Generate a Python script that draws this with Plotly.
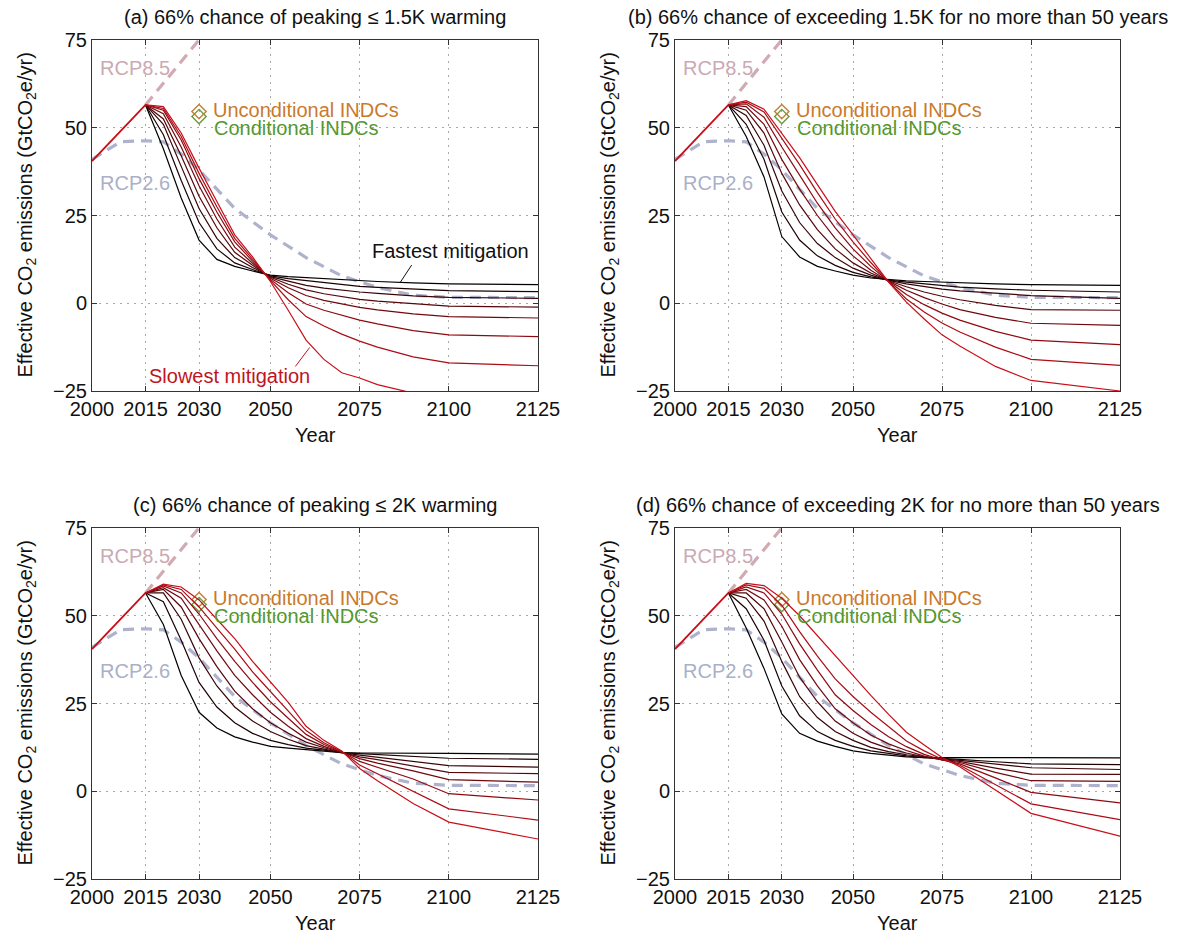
import plotly.graph_objects as go

# ---------------- data ----------------
years = [2015, 2020, 2025, 2030, 2035, 2040, 2045, 2050, 2055, 2060, 2065, 2070, 2075, 2080, 2090, 2100, 2125]

hist_years = [2000, 2015]
hist_values = [40.5, 56.5]

rcp26_years = [2000, 2008, 2015, 2020, 2025, 2030, 2040, 2050, 2060, 2070, 2080, 2090, 2100, 2125]
rcp26_values = [41.0, 46.0, 46.3, 46.0, 42.5, 38.0, 27.0, 19.5, 13.0, 7.8, 4.5, 2.3, 1.7, 1.6]

rcp85_years = [2015, 2020, 2025, 2030, 2035]
rcp85_values = [56.5, 62.7, 68.8, 75.0, 81.2]

indc_year = 2030
indc_unconditional = 54.6
indc_conditional = 53.2

# curves: fastest (index 0) -> slowest (index 7)
panel_a = [
    [56.5, 44.0, 30.0, 18.0, 12.5, 10.5, 9.2, 8.0, 7.6, 7.3, 7.0, 6.7, 6.4, 6.2, 5.8, 5.5, 5.3],
    [56.5, 48.0, 35.0, 23.0, 15.5, 11.5, 9.6, 7.8, 7.0, 6.4, 5.8, 5.3, 4.8, 4.5, 4.0, 3.6, 3.3],
    [56.5, 51.0, 39.0, 27.0, 18.5, 13.0, 10.2, 7.6, 6.3, 5.1, 4.3, 3.7, 3.2, 2.8, 2.1, 1.7, 1.4],
    [56.5, 52.5, 42.0, 30.5, 21.5, 14.5, 10.8, 7.4, 5.4, 3.8, 2.7, 1.8, 1.1, 0.6, -0.2, -0.8, -1.1],
    [56.5, 54.0, 44.5, 33.5, 24.0, 16.0, 11.4, 7.1, 4.4, 2.2, 0.8, -0.3, -1.2, -1.9, -3.0, -3.8, -4.2],
    [56.5, 55.0, 46.5, 35.5, 26.0, 17.5, 12.0, 6.8, 3.0, -0.2, -2.0, -3.5, -4.8, -5.9, -7.8, -9.0, -9.5],
    [56.5, 55.5, 47.5, 37.0, 27.5, 18.5, 12.6, 6.5, 1.0, -3.8, -6.5, -8.8, -10.8, -12.5, -15.3, -17.0, -17.8],
    [56.5, 56.0, 48.5, 38.5, 29.0, 19.5, 13.2, 6.2, -2.0, -10.5, -16.0, -19.8, -21.3, -23.2, -25.6, -27.0, -28.0],
]
panel_b = [
    [56.5, 47.5, 36.0, 19.0, 13.2, 10.5, 9.2, 8.0, 7.2, 6.7, 6.4, 6.2, 6.0, 5.8, 5.5, 5.3, 5.1],
    [56.5, 51.0, 41.0, 26.0, 18.0, 13.5, 10.8, 8.8, 7.5, 6.6, 6.0, 5.5, 5.0, 4.6, 4.1, 3.7, 3.2],
    [56.5, 53.5, 45.0, 32.0, 23.0, 17.0, 13.0, 10.0, 8.0, 6.5, 5.5, 4.7, 4.0, 3.5, 2.8, 2.2, 1.4],
    [56.5, 55.0, 48.5, 37.0, 28.0, 21.0, 15.5, 11.5, 8.6, 6.4, 4.7, 3.2, 2.0, 1.0, -0.6, -1.8, -2.0],
    [56.5, 56.0, 51.0, 41.0, 32.5, 25.0, 18.5, 13.5, 9.4, 6.3, 3.7, 1.6, -0.2, -1.8, -4.0, -5.7, -6.3],
    [56.5, 56.8, 53.0, 44.5, 36.5, 28.5, 21.5, 15.5, 10.5, 6.2, 2.5, -0.4, -2.8, -4.8, -8.0, -10.5, -11.8],
    [56.5, 57.3, 54.5, 47.0, 39.5, 31.5, 24.0, 17.5, 11.6, 6.1, 1.2, -2.5, -5.6, -8.2, -12.5, -16.0, -17.7],
    [56.5, 57.7, 55.3, 48.5, 41.5, 33.8, 26.2, 19.5, 12.9, 6.0, 0.3, -4.5, -9.0, -12.2, -18.0, -22.0, -25.0],
]
panel_c = [
    [56.5, 47.5, 33.0, 22.5, 18.0, 15.5, 14.0, 12.8, 12.3, 11.8, 11.4, 11.0, 10.9, 10.9, 10.8, 10.8, 10.6],
    [56.5, 54.0, 43.0, 31.0, 24.0, 19.5, 16.5, 14.5, 13.3, 12.3, 11.7, 11.0, 10.7, 10.4, 9.9, 9.4, 9.1],
    [56.5, 56.5, 49.0, 38.0, 30.0, 24.0, 20.0, 17.0, 14.8, 13.0, 12.0, 11.0, 10.3, 9.7, 8.5, 7.3, 6.9],
    [56.5, 57.5, 52.5, 43.5, 35.5, 28.5, 23.5, 19.5, 16.5, 14.0, 12.4, 11.1, 9.8, 9.0, 7.2, 5.4, 5.0],
    [56.5, 58.0, 55.0, 47.5, 40.0, 33.0, 27.5, 22.5, 18.5, 15.0, 12.8, 11.1, 9.3, 8.0, 5.8, 3.3, 2.6],
    [56.5, 58.5, 56.5, 50.5, 43.5, 37.0, 31.0, 25.5, 20.8, 16.2, 13.3, 11.2, 8.5, 6.8, 3.5, -0.7, -2.5],
    [56.5, 58.8, 57.5, 52.5, 46.5, 40.5, 34.0, 28.5, 23.0, 17.3, 13.8, 11.3, 7.5, 5.0, 0.0, -5.0, -8.2],
    [56.5, 59.0, 58.2, 54.5, 49.0, 43.5, 37.0, 31.0, 25.3, 18.5, 14.5, 11.5, 6.5, 3.0, -3.5, -8.8, -13.6],
]
panel_d = [
    [56.5, 46.5, 35.0, 22.0, 16.5, 14.3, 12.8, 11.5, 10.8, 10.2, 9.8, 9.6, 9.6, 9.6, 9.6, 9.7, 9.5],
    [56.5, 52.0, 43.0, 30.0, 21.5, 17.0, 14.5, 12.8, 11.5, 10.7, 10.1, 9.6, 9.4, 9.1, 8.4, 7.8, 7.6],
    [56.5, 55.0, 48.5, 37.0, 27.0, 21.0, 17.0, 14.5, 12.5, 11.3, 10.4, 9.7, 9.2, 8.8, 7.7, 6.7, 6.2],
    [56.5, 56.5, 52.0, 42.5, 32.5, 25.5, 20.0, 16.5, 14.0, 12.2, 10.9, 9.8, 9.0, 8.5, 6.6, 4.9, 4.8],
    [56.5, 57.5, 54.5, 47.0, 37.5, 30.0, 23.5, 19.5, 16.0, 13.5, 11.6, 10.0, 8.9, 8.2, 5.4, 3.0, 2.8],
    [56.5, 58.2, 56.5, 50.5, 42.0, 34.5, 27.5, 23.0, 19.0, 15.5, 12.7, 10.5, 8.9, 7.8, 3.8, -0.3, -3.3],
    [56.5, 58.8, 57.8, 53.0, 45.5, 38.5, 32.0, 27.0, 22.5, 18.5, 14.3, 11.5, 9.1, 7.4, 1.9, -3.6, -8.1],
    [56.5, 59.2, 58.6, 55.0, 50.0, 44.3, 38.7, 33.0, 27.3, 21.9, 16.8, 13.2, 9.6, 7.0, 0.3, -6.3, -12.8],
]
panels = [panel_a, panel_b, panel_c, panel_d]

titles = [
    "(a) 66% chance of peaking \u2264 1.5K warming",
    "(b) 66% chance of exceeding 1.5K for no more than 50 years",
    "(c) 66% chance of peaking \u2264 2K warming",
    "(d) 66% chance of exceeding 2K for no more than 50 years",
]
x_ticks = [2000, 2015, 2030, 2050, 2075, 2100, 2125]
y_ticks = [-25, 0, 25, 50, 75]

# ---------------- layout geometry (pixels) ----------------
W, H = 1182, 936
FONT = "Liberation Sans, Arial, Helvetica, sans-serif"
FS = 20
col_px = [(92, 538), (675, 1120)]
row_px = [(40, 391), (528, 879)]

def xdom(c):
    return [col_px[c][0] / W, col_px[c][1] / W]

def ydom(r):
    return [1 - row_px[r][1] / H, 1 - row_px[r][0] / H]

n = len(panel_a)
def curve_color(i):
    t = i / (n - 1)
    return "rgb(%d,%d,%d)" % (int(200 * t), int(15 * t), int(25 * t))

fig = go.Figure()
annotations = []
shapes = []

for p in range(4):
    r, c = divmod(p, 2)
    ax = "" if p == 0 else str(p + 1)
    xr, yr = "x" + ax, "y" + ax
    # RCP dashed scenarios
    fig.add_trace(go.Scatter(x=rcp85_years, y=rcp85_values, mode="lines", xaxis=xr, yaxis=yr,
                             line=dict(color="#d2aab2", width=3.2, dash="11px,7px"), showlegend=False, hoverinfo="skip"))
    fig.add_trace(go.Scatter(x=rcp26_years, y=rcp26_values, mode="lines", xaxis=xr, yaxis=yr,
                             line=dict(color="#aeb2cc", width=3.2, dash="11px,7px"), showlegend=False, hoverinfo="skip"))
    # INDC markers
    fig.add_trace(go.Scatter(x=[indc_year], y=[indc_conditional], mode="markers", xaxis=xr, yaxis=yr,
                             marker=dict(symbol="diamond-open", size=11, color="#6a9a3a", line=dict(width=1.4)),
                             showlegend=False, hoverinfo="skip"))
    fig.add_trace(go.Scatter(x=[indc_year], y=[indc_unconditional], mode="markers", xaxis=xr, yaxis=yr,
                             marker=dict(symbol="diamond-open", size=11, color="#c08038", line=dict(width=1.4)),
                             showlegend=False, hoverinfo="skip"))
    # mitigation pathways
    for i, vals in enumerate(panels[p]):
        fig.add_trace(go.Scatter(x=years, y=vals, mode="lines", xaxis=xr, yaxis=yr,
                                 line=dict(color=curve_color(i), width=1.2), showlegend=False, hoverinfo="skip"))
    fig.add_trace(go.Scatter(x=hist_years, y=hist_values, mode="lines", xaxis=xr, yaxis=yr,
                             line=dict(color=curve_color(n - 1), width=1.8), showlegend=False, hoverinfo="skip"))

    axis_common = dict(showline=True, linecolor="#333333", linewidth=1, mirror="ticks",
                       ticks="inside", ticklen=5, tickcolor="#333333", automargin=False,
                       showgrid=True, gridcolor="#a8a8a8", griddash="2px,5px", gridwidth=1,
                       zeroline=False, tickfont=dict(family=FONT, size=FS, color="#111111"))
    fig.layout["xaxis" + ax] = dict(domain=xdom(c), range=[2000, 2125], tickvals=x_ticks,
                                    anchor=yr, **axis_common)
    fig.layout["yaxis" + ax] = dict(domain=ydom(r), range=[-25, 75], tickvals=y_ticks,
                                    anchor=xr, **axis_common)

    cx = (col_px[c][0] + col_px[c][1]) / 2
    cy = (row_px[r][0] + row_px[r][1]) / 2
    annotations.append(dict(x=cx / W, y=1 - (row_px[r][0] - 23) / H, xref="paper", yref="paper",
                            text=titles[p], showarrow=False, xanchor="center", yanchor="middle",
                            font=dict(family=FONT, size=FS, color="#111111")))
    annotations.append(dict(x=(col_px[c][0] - 66) / W, y=1 - cy / H, xref="paper", yref="paper",
                            text="Effective CO<sub>2</sub> emissions (GtCO<sub>2</sub>e/yr)", textangle=-90,
                            showarrow=False, xanchor="center", yanchor="middle",
                            font=dict(family=FONT, size=FS, color="#111111")))
    annotations.append(dict(x=cx / W, y=1 - (row_px[r][1] + 44) / H, xref="paper", yref="paper",
                            text="Year", showarrow=False, xanchor="center", yanchor="middle",
                            font=dict(family=FONT, size=FS, color="#111111")))
    # scenario labels
    annotations.append(dict(x=2012, y=67, xref=xr, yref=yr, text="RCP8.5", showarrow=False,
                            xanchor="center", yanchor="middle", font=dict(family=FONT, size=FS, color="#cbaab3")))
    annotations.append(dict(x=2012, y=34.2, xref=xr, yref=yr, text="RCP2.6", showarrow=False,
                            xanchor="center", yanchor="middle", font=dict(family=FONT, size=FS, color="#aab0c8")))
    annotations.append(dict(x=2033.3, y=55.1, xref=xr, yref=yr, text="Unconditional INDCs", showarrow=False,
                            xanchor="left", yanchor="middle", font=dict(family=FONT, size=FS, color="#c97a2c")))
    annotations.append(dict(x=2033.6, y=50.0, xref=xr, yref=yr, text="Conditional INDCs", showarrow=False,
                            xanchor="left", yanchor="middle", font=dict(family=FONT, size=FS, color="#55972f")))

# fastest / slowest labels (panel a)
annotations.append(dict(x=2100.5, y=14.9, xref="x", yref="y", text="Fastest mitigation", showarrow=False,
                        xanchor="center", yanchor="middle", font=dict(family=FONT, size=FS, color="#111111")))
annotations.append(dict(x=2038.4, y=-20.6, xref="x", yref="y", text="Slowest mitigation", showarrow=False,
                        xanchor="center", yanchor="middle", font=dict(family=FONT, size=FS, color="#c0141e")))
shapes.append(dict(type="line", xref="x", yref="y", x0=2086.3, y0=5.8, x1=2089.6, y1=10.9,
                   line=dict(color="#111111", width=1)))
shapes.append(dict(type="line", xref="x", yref="y", x0=2057.0, y0=-18.0, x1=2061.0, y1=-12.6,
                   line=dict(color="#c0141e", width=1)))

fig.update_layout(width=W, height=H, autosize=False, margin=dict(l=0, r=0, t=0, b=0, pad=0),
                  paper_bgcolor="white", plot_bgcolor="white", showlegend=False,
                  annotations=annotations, shapes=shapes,
                  font=dict(family=FONT, size=FS, color="#111111"))

fig.write_html("out.html", config={"displayModeBar": False},
               post_script="document.body.style.margin='0px';document.body.style.overflow='hidden';")
